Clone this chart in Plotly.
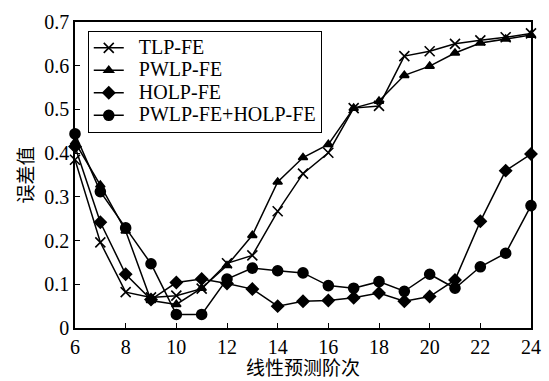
import plotly.graph_objects as go

orders = list(range(6, 25))
tlp_fe = [0.385, 0.196, 0.082, 0.070, 0.074, 0.090, 0.148, 0.166, 0.267, 0.353, 0.401, 0.503, 0.508, 0.622, 0.633, 0.650, 0.658, 0.665, 0.674]
pwlp_fe = [0.425, 0.327, 0.222, 0.063, 0.054, 0.091, 0.143, 0.212, 0.334, 0.390, 0.420, 0.503, 0.519, 0.578, 0.599, 0.629, 0.652, 0.661, 0.670]
holp_fe = [0.415, 0.242, 0.123, 0.065, 0.104, 0.112, 0.102, 0.089, 0.050, 0.061, 0.063, 0.069, 0.080, 0.061, 0.072, 0.110, 0.244, 0.360, 0.398]
combo = [0.444, 0.312, 0.229, 0.147, 0.031, 0.031, 0.112, 0.137, 0.131, 0.126, 0.097, 0.091, 0.106, 0.084, 0.123, 0.091, 0.140, 0.171, 0.280]

names = ["TLP-FE", "PWLP-FE", "HOLP-FE", "PWLP-FE+HOLP-FE"]
symbols = ["x-thin", "triangle-up", "diamond", "circle"]
sizes = [10, 8, 9, 10]
series = [tlp_fe, pwlp_fe, holp_fe, combo]

font_family = "Liberation Serif, Times New Roman, Noto Sans CJK SC, serif"

fig = go.Figure()
for name, sym, sz, vals in zip(names, symbols, sizes, series):
    fig.add_trace(go.Scatter(
        x=orders, y=vals, mode="lines+markers",
        name='<span style="font-size:20px">&nbsp;&nbsp;' + name + '</span>',
        line=dict(color="black", width=1.5),
        marker=dict(symbol=sym, size=sz, color="black",
                    line=dict(color="black", width=1.6)),
        cliponaxis=False,
    ))

fig.update_layout(
    width=549, height=381,
    margin=dict(l=75, r=8, t=22, b=47),
    paper_bgcolor="white", plot_bgcolor="white",
    font=dict(family=font_family, size=20, color="black"),
    showlegend=True,
    legend=dict(
        x=0.028, y=0.972, xanchor="left", yanchor="top",
        bgcolor="white", bordercolor="black", borderwidth=1,
        font=dict(family=font_family, size=15, color="black"),
        tracegroupgap=0, itemwidth=30,
    ),
    xaxis=dict(
        range=[6, 24], tickmode="array", tickvals=list(range(6, 25, 2)),
        ticks="inside", ticklen=5, tickcolor="black",
        showline=True, linecolor="black", linewidth=1.5, mirror=True,
        showgrid=False, zeroline=False,
        tickfont=dict(size=20),
        title=dict(text="线性预测阶次", font=dict(size=19), standoff=2),
    ),
    yaxis=dict(
        range=[0, 0.7], dtick=0.1, tick0=0,
        ticks="inside", ticklen=5, tickcolor="black",
        showline=True, linecolor="black", linewidth=1.5, mirror=True,
        showgrid=False, zeroline=False,
        tickfont=dict(size=20),
        title=dict(text="误差值", font=dict(size=19), standoff=6),
    ),
)

fig.write_html("out.html")
